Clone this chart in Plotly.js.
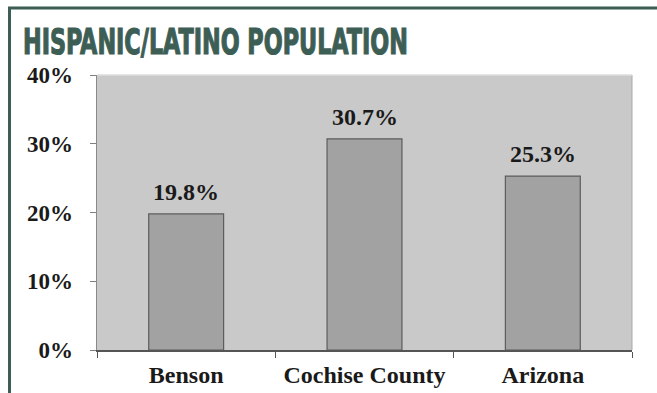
<!DOCTYPE html>
<html>
<head>
<meta charset="utf-8">
<script src="https://cdn.plot.ly/plotly-3.0.1.min.js"></script>
<style>
  html, body { margin: 0; padding: 0; background: #ffffff; }
  #chart { width: 657px; height: 393px; }
</style>
</head>
<body>
<div id="chart"></div>
<script>
const categories = ['Benson', 'Cochise County', 'Arizona'];
const values = [19.8, 30.7, 25.3];
const yTickVals = [0, 10, 20, 30, 40];
const yTickText = ['0%', '10%', '20%', '30%', '40%'];
const chartTitle = 'HISPANIC/LATINO POPULATION';

const W = 657, H = 393;
const M = { l: 97, r: 25, t: 75, b: 43 };
const pw = W - M.l - M.r, ph = H - M.t - M.b;
const px = v => (v - M.l) / pw;
const py = v => (H - M.b - v) / ph;

const green = '#3d5e55';
const serif = 'Liberation Serif, Times New Roman, serif';

const trace = {
  type: 'bar',
  x: categories,
  y: values,
  marker: { color: '#a2a2a2', line: { color: '#5c5c5c', width: 1.2 } },
  hoverinfo: 'skip'
};

const annotations = categories.map((c, i) => ({
  x: c, y: values[i], xref: 'x', yref: 'y',
  text: '<b>' + values[i].toFixed(1) + '%</b>',
  showarrow: false, yanchor: 'bottom', yshift: 7,
  font: { family: serif, size: 24, color: '#1a1a1a' }
}));

const layout = {
  width: W, height: H,
  margin: M,
  paper_bgcolor: '#ffffff',
  plot_bgcolor: '#c9c9c9',
  showlegend: false,
  bargap: 0.58,
  title: {
    text: '<b>' + chartTitle + '</b>',
    x: 23 / W, xref: 'container', xanchor: 'left',
    y: 1 - 41 / H, yref: 'container', yanchor: 'middle',
    font: { family: 'Liberation Sans Narrow, DejaVu Sans Condensed, Arial Narrow, sans-serif', size: 36, color: green }
  },
  xaxis: {
    type: 'category',
    tickson: 'boundaries',
    ticks: 'outside', ticklen: 6, tickcolor: '#555555', tickwidth: 1,
    showline: true, linecolor: '#555555', linewidth: 1.5,
    showgrid: false,
    ticklabelstandoff: 3,
    tickfont: { family: serif, size: 24, color: '#1a1a1a', weight: 'bold' }
  },
  yaxis: {
    range: [0, 40],
    tickvals: yTickVals, ticktext: yTickText,
    ticks: 'outside', ticklen: 6, tickcolor: '#808080', tickwidth: 1,
    showline: true, linecolor: '#8a8a8a', linewidth: 1.5,
    mirror: false,
    showgrid: false, zeroline: false,
    ticklabelstandoff: 12,
    tickfont: { family: serif, size: 23, color: '#1a1a1a', weight: 'bold' }
  },
  annotations: annotations,
  shapes: [
    { type: 'line', xref: 'paper', yref: 'paper', x0: 1, x1: 1, y0: 0, y1: 1,
      line: { color: '#a8a8a8', width: 1 } },
    { type: 'line', xref: 'paper', yref: 'paper', x0: 0, x1: 1, y0: 1, y1: 1,
      line: { color: '#dcdcdc', width: 1.5 } },
    { type: 'line', xref: 'paper', yref: 'paper', x0: px(9.5), x1: px(9.5), y0: py(H + 20), y1: py(8),
      line: { color: green, width: 3 } },
    { type: 'line', xref: 'paper', yref: 'paper', x0: px(8), x1: px(W + 20), y0: py(8), y1: py(8),
      line: { color: green, width: 3 } }
  ]
};

Plotly.newPlot('chart', [trace], layout, { staticPlot: true, displayModeBar: false }).then(gd => {
  // compress the title horizontally to mimic the condensed headline face
  const t = gd.querySelector('.gtitle');
  if (t) {
    t.style.stroke = green;
    t.style.strokeWidth = '1.2px';
    const bb = t.getBBox();
    const target = 385;
    const s = Math.min(1, target / bb.width);
    const x0 = bb.x;
    t.setAttribute('transform', 'translate(' + x0 + ',0) scale(' + s + ',1) translate(' + (-x0) + ',0)');
  }
});
</script>
</body>
</html>
